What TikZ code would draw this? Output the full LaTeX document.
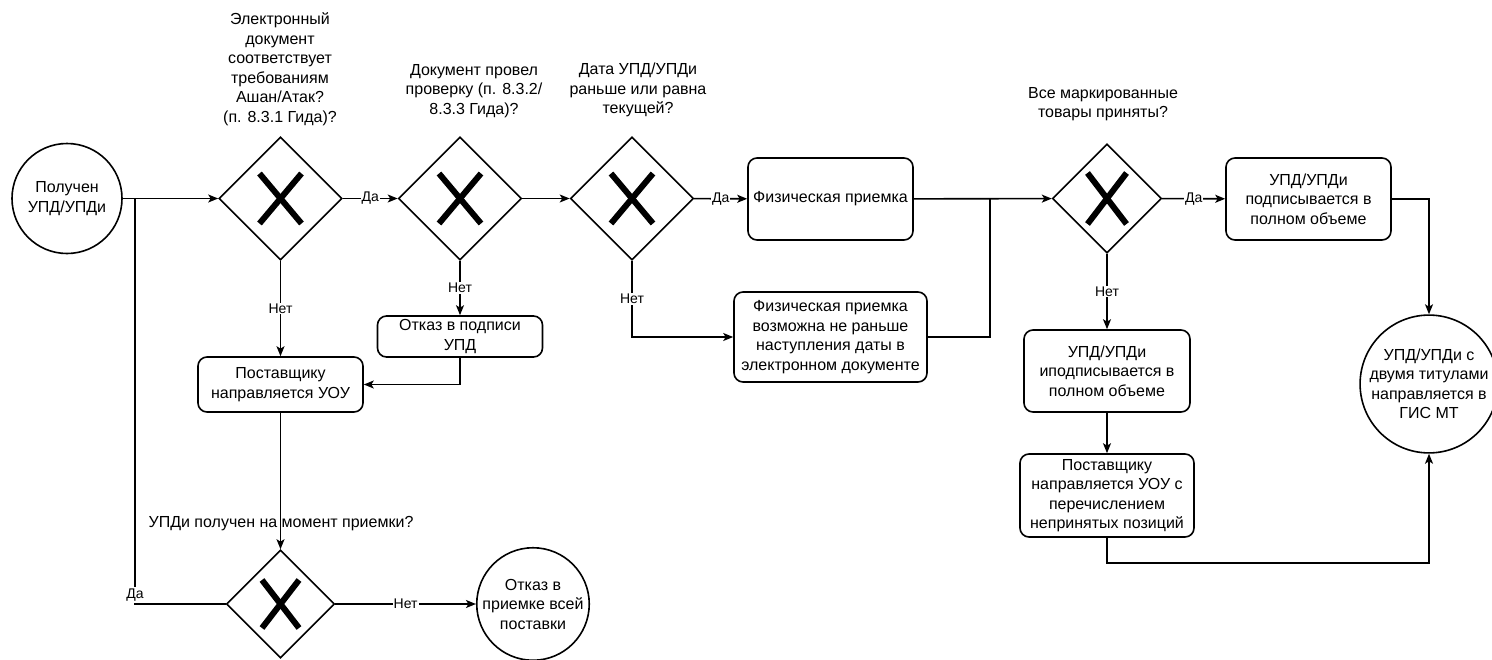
\documentclass[tikz,border=0pt]{standalone}
\usepackage{fontspec}
\setmainfont{Liberation Sans}
\usetikzlibrary{arrows.meta, shapes.geometric}

% cross inside a gateway: node, half width, half height
\newcommand{\gatecross}[3]{%
  \draw[line width=6pt] ([shift={(-#2,-#3)}]#1.center) -- ([shift={(#2,#3)}]#1.center);
  \draw[line width=6pt] ([shift={(-#2,#3)}]#1.center) -- ([shift={(#2,-#3)}]#1.center);
}

\begin{document}
\begin{tikzpicture}[x=1pt, y=-1pt,
  font=\fontsize{16}{19.5}\selectfont,
  line width=1.6pt,
  >={Stealth[length=10pt,width=8pt,inset=2.5pt]},
  gate/.style={draw, diamond, minimum width=#1, minimum height=#1, inner sep=0pt},
  task/.style={draw, rounded corners=9pt, align=center, inner sep=1pt},
  event/.style={draw, circle, align=center, inner sep=0pt, minimum size=#1},
  question/.style={align=center, inner sep=0pt},
  lbl/.style={fill=white, inner sep=1pt, font=\fontsize{14}{16}\selectfont}]
\useasboundingbox (0,0) rectangle (1492,659);

% Start and end events
\node[event=110pt] (start) at (67,198.5) {Получен\\УПД/УПДи};
\node[event=132pt] (gis) at (1429,384) {УПД/УПДи с\\двумя титулами\\направляется в\\ГИС МТ};
\node[event=106pt] (reject) at (533,604) {Отказ в\\приемке всей\\поставки};

% Gateways
\node[gate=123pt] (g1) at (280.5,198.5) {};
\node[gate=123pt] (g2) at (460,198.5) {};
\node[gate=123pt] (g3) at (632,198.5) {};
\node[gate=109pt] (g4) at (1107,198.5) {};
\node[gate=108pt] (g5) at (280.5,604) {};
\gatecross{g1}{21}{25}
\gatecross{g2}{21}{25}
\gatecross{g3}{21}{25}
\gatecross{g4}{19.5}{25.5}
\gatecross{g5}{18.5}{24}

% Questions
\node[question] (q1) at (280,69) {Электронный\\документ\\соответствует\\требованиям\\Ашан/Атак?\\(п. 8.3.1 Гида)?};
\node[question] (q2) at (474,91) {Документ провел\\проверку (п. 8.3.2/\\8.3.3 Гида)?};
\node[question] (q3) at (638,90) {Дата УПД/УПДи\\раньше или равна\\текущей?};
\node[question] (q4) at (1103,104) {Все маркированные\\товары приняты?};
\node[question] (q5) at (281,524) {УПДи получен на момент приемки?};

% Tasks
\node[task, minimum width=165pt, minimum height=82pt] (phys) at (830.5,199) {Физическая приемка};
\node[task, minimum width=193pt, minimum height=90pt] (late) at (830.5,337) {Физическая приемка\\возможна не раньше\\наступления даты в\\электронном документе};
\node[task, minimum width=165pt, minimum height=41pt] (refuse) at (460,336.5) {Отказ в подписи\\УПД};
\node[task, minimum width=165pt, minimum height=55pt] (uou) at (280.5,384.5) {Поставщику\\направляется УОУ};
\node[task, minimum width=165pt, minimum height=82pt] (sign) at (1308.5,199) {УПД/УПДи\\подписывается в\\полном объеме};
\node[task, minimum width=166pt, minimum height=82pt] (part) at (1107,371) {УПД/УПДи\\иподписывается в\\полном объеме};
\node[task, minimum width=174pt, minimum height=83pt] (uou2) at (1107,495.5) {Поставщику\\направляется УОУ с\\перечислением\\непринятых позиций};

% Bend points
\coordinate (split) at (135,198.5);
\coordinate (merge) at (990,198.5);
\coordinate (low) at (1107,563);

% Main flow
\draw[->] (start) -- (g1);
\draw[->] (g1) -- node[lbl] {Да} (g2);
\draw[->] (g2) -- (g3);
\draw[->] (g3) -- node[lbl] {Да} (phys);
\draw[->] (phys) -- (g4);
\draw[->] (g4) -- node[lbl] {Да} (sign);
\draw[->] (sign) -| (gis);

% No branches
\draw[->] (g1) -- node[lbl] {Нет} (uou);
\draw[->] (g2) -- node[lbl] {Нет} (refuse);
\draw[->] (refuse) |- (uou);
\draw[->] (g3) |- node[lbl, pos=0.25] {Нет} (late);
\draw (late) -| (merge);
\draw[->] (g4) -- node[lbl] {Нет} (part);
\draw[->] (part) -- (uou2);
\draw[->] (uou2) -- (low) -| (gis);

% Second check
\draw[->] (uou) -- (g5);
\draw[->] (g5) -- node[lbl] {Нет} (reject);
\draw (g5) -| node[lbl, pos=0.5, anchor=south, inner sep=2pt] {Да} (split);

\end{tikzpicture}
\end{document}
